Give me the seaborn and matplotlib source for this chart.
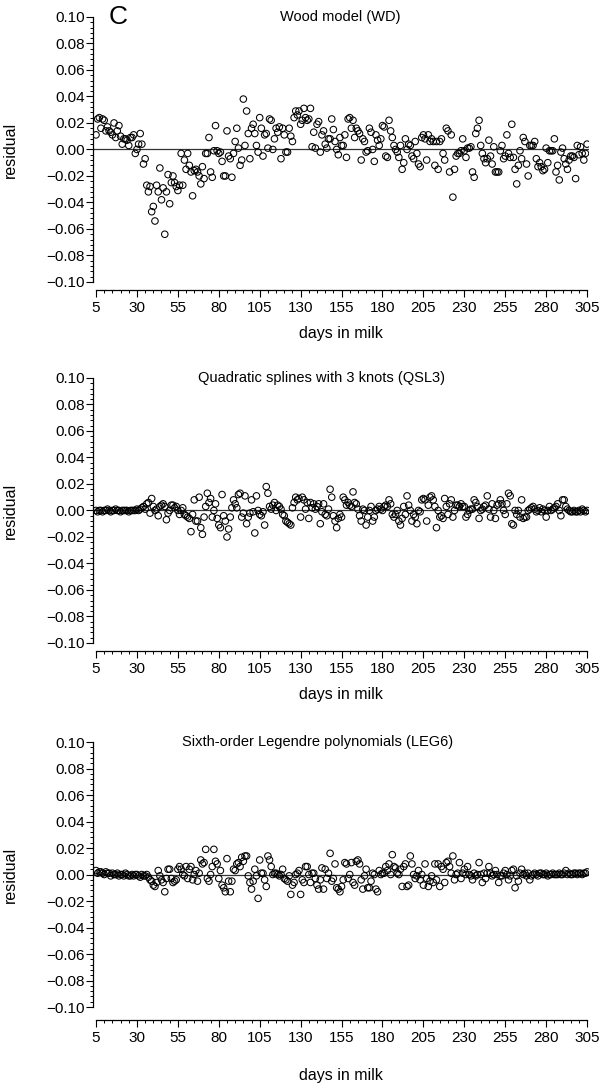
import numpy as np
import matplotlib
matplotlib.use("Agg")
import matplotlib.pyplot as plt
import seaborn as sns
from matplotlib.ticker import MultipleLocator

FIRST_DAY = 5
X_TICKS = [5, 30, 55, 80, 105, 130, 155, 180, 205, 230, 255, 280, 305]
Y_TICKS = [-0.10, -0.08, -0.06, -0.04, -0.02, 0.00, 0.02, 0.04, 0.06, 0.08, 0.10]

# residuals by day in milk (day 5 .. 305)
wd_resid = [
    0.011, 0.023, 0.024, 0.016, 0.023, 0.022, 0.014, 0.017, 0.014, 0.013,
    0.011, 0.020, 0.009, 0.014, 0.018, 0.010, 0.004, 0.008, 0.008, 0.007,
    0.003, 0.009, 0.009, 0.011, -0.003, 0.000, 0.004, 0.012, 0.004, -0.011,
    -0.007, -0.027, -0.032, -0.028, -0.047, -0.043, -0.054, -0.027, -0.032, -0.014,
    -0.038, -0.029, -0.064, -0.032, -0.019, -0.041, -0.025, -0.020, -0.025, -0.028,
    -0.031, -0.027, -0.003, -0.027, -0.008, -0.015, -0.003, -0.012, -0.017, -0.035,
    -0.016, -0.015, -0.017, -0.020, -0.026, -0.013, -0.022, -0.003, -0.003, 0.009,
    -0.017, -0.021, -0.001, 0.018, -0.001, -0.003, -0.002, -0.009, -0.020, -0.020,
    0.014, -0.005, -0.007, -0.021, -0.003, 0.006, 0.016, 0.001, -0.012, -0.008,
    0.038, 0.003, 0.029, 0.012, -0.007, 0.016, 0.019, 0.012, 0.003, -0.002,
    0.024, 0.016, -0.005, 0.011, 0.012, 0.001, 0.023, 0.022, 0.000, 0.008,
    0.016, 0.013, 0.017, -0.007, 0.016, 0.011, -0.002, -0.002, 0.016, 0.010,
    0.006, 0.024, 0.029, 0.026, 0.029, 0.019, 0.022, 0.031, 0.024, 0.022,
    0.023, 0.031, 0.002, 0.013, 0.001, 0.019, 0.021, -0.002, 0.011, 0.014,
    0.004, 0.001, 0.008, 0.008, 0.023, 0.015, 0.006, 0.000, -0.004, 0.009,
    0.003, 0.003, 0.011, -0.006, 0.023, 0.024, 0.016, 0.022, 0.009, 0.016,
    0.014, 0.012, -0.008, 0.008, 0.006, -0.002, -0.001, 0.016, 0.013, 0.000,
    -0.009, 0.011, 0.007, 0.003, 0.008, 0.018, 0.017, -0.005, -0.006, 0.022,
    0.014, 0.009, 0.003, 0.000, -0.002, -0.006, 0.003, -0.015, -0.010, 0.008,
    0.000, 0.004, 0.003, -0.005, -0.007, 0.006, -0.003, -0.011, -0.013, 0.009,
    0.011, 0.008, -0.008, 0.011, 0.006, 0.008, 0.006, -0.012, 0.006, -0.015,
    0.006, 0.008, -0.003, -0.008, 0.016, 0.014, -0.017, 0.011, -0.036, -0.015,
    -0.005, -0.003, -0.003, -0.001, 0.008, -0.001, -0.006, 0.001, 0.001, 0.002,
    -0.017, -0.021, 0.012, 0.016, 0.022, 0.003, -0.003, -0.007, -0.010, -0.007,
    0.007, -0.005, -0.011, 0.002, -0.017, -0.017, -0.017, -0.001, 0.003, -0.007,
    -0.005, 0.011, -0.003, -0.006, 0.019, -0.006, -0.015, -0.026, -0.012, -0.001,
    -0.007, 0.009, 0.006, -0.011, -0.020, 0.003, 0.003, 0.003, 0.006, -0.007,
    -0.013, -0.010, -0.013, -0.016, -0.015, 0.001, -0.010, -0.001, -0.001, -0.001,
    0.008, -0.017, -0.012, -0.023, -0.002, 0.001, -0.007, -0.011, -0.015, -0.008,
    -0.005, -0.005, -0.006, -0.022, 0.003, -0.004, 0.002, -0.003, -0.008, -0.003,
    0.004,
]

qsl3_resid = [
    0.000, -0.001, 0.000, 0.000, -0.001, 0.000, 0.000, 0.001, 0.000, -0.001,
    0.000, 0.000, 0.001, 0.000, 0.000, -0.001, 0.000, 0.000, 0.000, 0.000,
    -0.001, 0.000, 0.000, 0.000, 0.000, 0.001, 0.000, 0.001, 0.002, 0.003,
    0.001, 0.005, 0.006, -0.002, 0.009, 0.003, 0.000, 0.001, -0.004, 0.003,
    0.004, 0.005, 0.003, -0.007, -0.002, 0.000, 0.004, 0.004, 0.002, 0.003,
    0.000, -0.003, 0.000, 0.002, -0.003, -0.004, -0.005, -0.006, -0.016, -0.003,
    0.008, -0.008, -0.008, 0.010, -0.013, -0.018, -0.005, 0.003, 0.013, 0.006,
    0.009, -0.005, 0.000, 0.005, -0.006, -0.011, -0.013, 0.012, -0.004, -0.008,
    -0.020, -0.014, -0.005, 0.002, 0.008, 0.005, 0.002, 0.012, 0.013, -0.005,
    -0.002, 0.011, -0.010, -0.005, -0.002, 0.008, -0.001, -0.017, 0.011, 0.000,
    -0.003, -0.004, -0.001, -0.011, 0.018, 0.013, 0.003, 0.001, 0.004, 0.006,
    0.000, 0.004, 0.003, 0.001, -0.003, -0.004, -0.008, -0.009, -0.010, -0.011,
    0.002, 0.006, 0.010, 0.008, 0.009, -0.005, 0.010, 0.008, 0.001, 0.006,
    -0.006, 0.006, 0.002, 0.005, 0.001, 0.003, 0.005, -0.010, -0.001, 0.005,
    -0.003, -0.004, 0.001,
    0.016, 0.010, -0.004, -0.008, -0.013, -0.006, -0.003, -0.005, 0.010, 0.008,
    0.004, 0.006, 0.004, 0.003, 0.014, 0.006, 0.005, 0.001, -0.004, -0.008,
    0.001, 0.000, -0.011, -0.005, 0.000, 0.003, -0.008, -0.005, 0.000, 0.001,
    0.003, 0.001, 0.000, 0.003, 0.004, 0.003, 0.008, 0.005, -0.003, -0.005,
    -0.003, 0.000, -0.008, -0.011, -0.006, 0.003, -0.003, 0.011, 0.004, 0.000,
    -0.008, -0.003, -0.005, -0.010, 0.000, -0.001, 0.008, 0.009, 0.008, -0.008,
    0.004, 0.010, 0.011, 0.008, 0.003, -0.013, 0.000, -0.005, -0.004, -0.006,
    0.009, 0.003, -0.003, 0.005, 0.008, -0.005, 0.000, 0.004, 0.004, 0.003,
    0.005, 0.003, 0.003, -0.005, -0.003, 0.000, 0.001, 0.001, 0.008, 0.006,
    0.003, -0.006, 0.000, 0.001, 0.003, 0.004, 0.011, 0.001, -0.005, 0.005,
    0.000, -0.006, 0.004, 0.005, 0.008, 0.005, 0.000, -0.003, 0.005, 0.013,
    0.011, -0.010, -0.011, 0.000, -0.003, 0.000, -0.005, 0.008, -0.006, -0.005,
    -0.005, 0.000, 0.001, 0.002, 0.003, 0.001, -0.001, 0.000, 0.002, -0.001,
    0.001, 0.000, -0.005, 0.000, 0.003, 0.000, 0.001, 0.002, 0.003, 0.005,
    0.000, -0.004, 0.008, 0.008, 0.003, 0.001, 0.000, -0.001, -0.001, 0.000,
    -0.001, -0.001, 0.000, -0.001, 0.001, 0.000, -0.001, 0.000,
]

leg6_resid = [
    0.003, 0.001, 0.002, 0.002, 0.001, 0.000, 0.002, 0.001, 0.001, -0.001,
    0.001, 0.000, 0.000, 0.001, -0.001, 0.000, 0.000, -0.001, 0.001, 0.000,
    -0.001, -0.001, 0.000, -0.001, 0.000, 0.000, -0.001, -0.002, 0.000, -0.001,
    -0.001, 0.000, -0.002,
    -0.004, -0.005, -0.008, -0.009, -0.006, 0.003, -0.001, -0.004, -0.006, -0.013,
    -0.003, 0.004, 0.004, -0.003, -0.006, -0.005, -0.004, 0.004, 0.006, 0.004,
    0.000, -0.001, 0.006, -0.003, 0.004, 0.006, -0.004, 0.000, 0.003, -0.005,
    0.001, 0.011, 0.008, 0.009, 0.019, -0.003, -0.005, 0.000, 0.006, 0.019,
    0.010, 0.008, -0.003, 0.003, -0.008, -0.010, -0.013, 0.012, -0.005, -0.013,
    -0.005, 0.004, 0.003, 0.008, 0.009, 0.006, 0.013, 0.010, 0.014, 0.014,
    -0.001, -0.006, -0.011, -0.005, 0.004, -0.001, -0.018, 0.011, 0.001, 0.001,
    -0.004, -0.009, 0.014, 0.011, 0.006, 0.000, 0.001, 0.001, 0.000, -0.001,
    0.000, 0.004, -0.003, -0.004, -0.005, -0.001, -0.015, -0.008, -0.006, 0.000,
    0.001, 0.003, -0.015, -0.004, -0.006, 0.006, 0.006, 0.000, -0.006, 0.001,
    0.001, -0.003, -0.008, -0.011, -0.004, 0.005, -0.011, 0.004, -0.003, 0.001,
    0.016, -0.005, -0.003, 0.008, -0.010, -0.011, -0.013, -0.009, -0.004, 0.009,
    0.008, -0.003, 0.000, 0.009, -0.006, -0.008, 0.010, 0.011, 0.008, -0.004,
    -0.011, -0.001, 0.004, -0.010, -0.010, -0.005, 0.001, 0.000, -0.011, -0.013,
    0.003, 0.000, 0.001, 0.001, 0.006, 0.003, 0.008, 0.000, 0.015, 0.006,
    0.005, 0.001, 0.000, 0.004, -0.009, 0.006, 0.008, -0.009, -0.008, 0.014,
    0.008, 0.000, -0.003, -0.001, 0.003, -0.004, 0.000, -0.008, 0.008, -0.003,
    -0.009, -0.005, -0.001, -0.006, 0.008, -0.004, 0.008, -0.009, 0.006, 0.004,
    -0.006, 0.009, 0.010, 0.006, 0.001, 0.014, -0.004, 0.000, 0.001, 0.009,
    -0.003, 0.001, 0.004, 0.000, 0.006, 0.000, -0.001, -0.004, 0.001, -0.001,
    0.000, 0.009, 0.000, -0.006, 0.001, -0.003, 0.001, 0.006, 0.001, -0.001,
    0.000, 0.003, 0.000, -0.006, -0.001, -0.001, 0.001, 0.003, 0.000, -0.004,
    -0.001, 0.003, 0.004, -0.010, -0.001, -0.005, 0.001, 0.004, 0.000, 0.001,
    -0.001, 0.001, -0.004, -0.001, 0.000, 0.001, 0.000, -0.001, 0.001, 0.001,
    0.000, 0.000, 0.001, -0.001, 0.000, 0.000, 0.001, 0.000, 0.000, 0.000,
    0.001, 0.000, 0.000, 0.001, 0.003, 0.000, 0.001, 0.000, 0.000, 0.001,
    0.001, 0.000, 0.001, 0.001, 0.000, 0.001, 0.001, 0.002,
]

# title, residuals, axes rect (fig fraction), title x (axes fraction), x-axis offset (px)
PANELS = [
    ("Wood model (WD)", wd_resid, [0.1545, 0.7418, 0.824, 0.2427], 0.498, 8),
    ("Quadratic splines with 3 knots (QSL3)", qsl3_resid, [0.1545, 0.4112, 0.824, 0.2427], 0.46, 8),
    ("Sixth-order Legendre polynomials (LEG6)", leg6_resid, [0.1545, 0.0778, 0.824, 0.2427], 0.452, 13),
]

sns.set_theme(style="ticks")
# no narrow regular sans installed: Arial-metric Liberation Sans, a bit smaller
plt.rcParams["font.family"] = ["Liberation Sans", "DejaVu Sans"]
tick_fs, label_fs, title_fs, letter_fs = 11, 11.5, 10.5, 19

fig = plt.figure(figsize=(6.02, 10.92), dpi=100)

for i, (title, resid, rect, title_x, x_off) in enumerate(PANELS):
    ax = fig.add_axes(rect)
    days = np.arange(FIRST_DAY, FIRST_DAY + len(resid))
    ax.axhline(0, color="#333333", lw=0.9, zorder=1)
    sns.scatterplot(x=days, y=resid, ax=ax, marker="o", s=22, zorder=2)
    pts = ax.collections[-1]
    pts.set_facecolor("none")
    pts.set_edgecolor("black")
    pts.set_linewidth(0.75)

    sns.despine(ax=ax)
    ax.spines["bottom"].set_position(("outward", x_off * 0.72))
    ax.spines["bottom"].set_bounds(5, 305)
    for sp in ("left", "bottom"):
        ax.spines[sp].set_linewidth(0.9)
        ax.spines[sp].set_color("black")

    ax.xaxis.set_minor_locator(MultipleLocator(5))
    ax.yaxis.set_minor_locator(MultipleLocator(0.004))
    ax.set_xticks(X_TICKS, labels=[str(t) for t in X_TICKS])
    ax.set_yticks(Y_TICKS, labels=[f"{t:.2f}".replace("-", "\u2212") for t in Y_TICKS])
    ax.set_xlim(5 - 3 / 1.63, 305 + 1.2)
    ax.set_ylim(-0.10, 0.10)

    ax.tick_params(axis="both", which="major", direction="out", length=5, width=0.8,
                   color="black", labelsize=tick_fs, labelcolor="black")
    ax.tick_params(axis="both", which="minor", direction="out", length=2.5, width=0.7,
                   color="black")
    ax.tick_params(axis="y", which="major", pad=1)
    ax.tick_params(axis="x", which="major", pad=3)

    ax.set_ylabel("residual", fontsize=label_fs, color="black")
    ax.yaxis.set_label_coords(-0.151, 0.5)
    ax.set_xlabel("days in milk", fontsize=label_fs, color="black")
    lab_y = -0.196 if x_off < 10 else -0.257
    ax.xaxis.set_label_coords(0.5, lab_y)
    ax.xaxis.label.set_va("center")

    ax.text(title_x, 1.0, title, transform=ax.transAxes, ha="center", va="center",
            fontsize=title_fs, color="black")
    if i == 0:
        ax.text(0.05, 1.0, "C", transform=ax.transAxes, ha="center", va="center",
                fontsize=letter_fs, color="black")

fig.savefig("out.png", dpi=100)
